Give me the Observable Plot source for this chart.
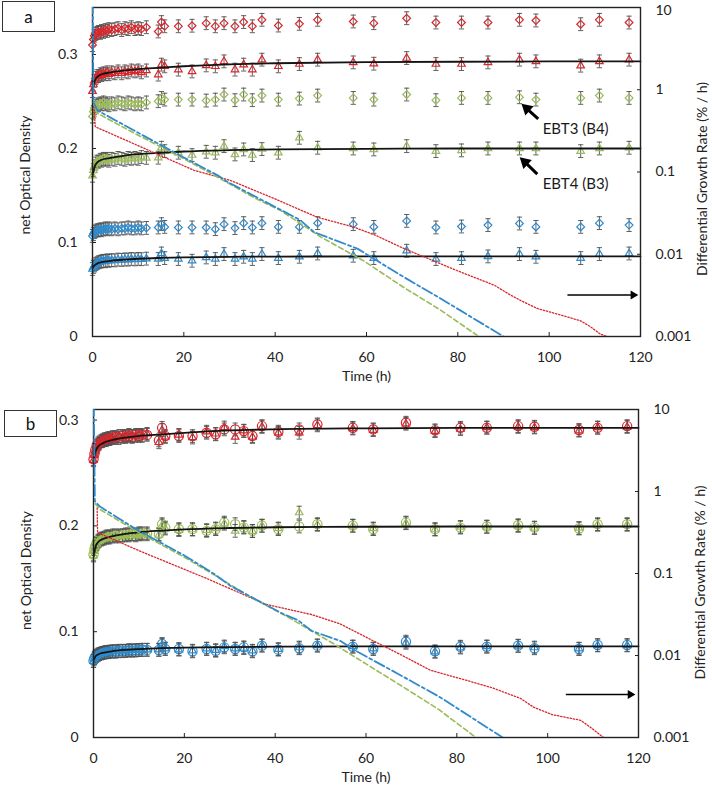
<!DOCTYPE html>
<html>
<head>
<meta charset="utf-8">
<script src="https://cdn.jsdelivr.net/npm/d3@7"></script>
<script src="https://cdn.jsdelivr.net/npm/@observablehq/plot@0.6"></script>
<style>
  body { margin: 0; background: #fff; font-family: Lato, sans-serif; }
  #root { position: relative; width: 712px; height: 786px; overflow: hidden; background: #fff; }
  .panel { position: absolute; left: 0; width: 712px; }
  .panel svg { position: absolute; left: 0; top: 0; }
  .tag { position: absolute; box-sizing: border-box; border: 1px solid #333; background: #fff;
         font: 17px Lato, sans-serif; color: #111; display: flex; align-items: center; justify-content: center; }
</style>
</head>
<body>
<div id="root"></div>
<script>
// ---- sampling times (h) shared by every optical-density series ----
const time = [0,0.2,0.4,0.7,1.0,1.3,1.7,2.0,2.4,2.8,3.2,3.6,4.2,4.9,5.6,6.4,7.1,7.8,8.5,9.3,10.0,10.7,11.8,
  14.4,15.1,15.8,18.8,21.8,24.9,26.9,28.8,31.2,33.1,35.0,37.1,40.7,45.3,49.3,57.1,61.6,68.8,75.2,80.8,86.6,93.5,97.1,106.9,111.0,117.5];

// ---- panel a: net optical density ----
const odA_red4 = [0.310,0.316,0.320,0.322,0.323,0.324,0.323,0.325,0.324,0.326,0.325,0.327,0.326,0.327,0.328,0.326,0.328,0.327,0.329,0.327,0.328,0.327,0.329,
  0.3245,0.3345,0.330,0.330,0.3306,0.3333,0.330,0.3333,0.330,0.3345,0.330,0.3369,0.3308,0.3326,0.3369,0.3351,0.3333,0.3386,0.3340,0.3340,0.3340,0.3369,0.3362,0.3322,0.3369,0.3340];
const odA_red3 = [0.261,0.268,0.272,0.275,0.277,0.277,0.279,0.278,0.280,0.279,0.281,0.279,0.281,0.280,0.282,0.280,0.282,0.281,0.283,0.282,0.283,0.281,0.283,
  0.2786,0.2892,0.2874,0.2839,0.282,0.2884,0.2874,0.2927,0.2839,0.2892,0.2839,0.2945,0.2874,0.2898,0.2945,0.2916,0.2902,0.2962,0.2898,0.2898,0.2916,0.2945,0.2927,0.2881,0.2927,0.2945];
const odA_green4 = [0.234,0.239,0.243,0.245,0.247,0.246,0.248,0.247,0.249,0.247,0.248,0.246,0.248,0.247,0.249,0.248,0.247,0.249,0.248,0.247,0.248,0.247,0.249,
  0.2503,0.2538,0.252,0.252,0.252,0.251,0.252,0.2574,0.2514,0.2574,0.2514,0.2563,0.252,0.2531,0.2563,0.2538,0.252,0.2574,0.2514,0.2538,0.2538,0.2545,0.252,0.2538,0.2563,0.2538];
const odA_green3 = [0.171,0.177,0.181,0.184,0.186,0.186,0.188,0.187,0.189,0.188,0.189,0.187,0.189,0.188,0.190,0.189,0.188,0.190,0.189,0.190,0.189,0.191,0.190,
  0.1902,0.2008,0.1972,0.1955,0.193,0.1965,0.1955,0.2025,0.1937,0.199,0.193,0.1994,0.1955,0.2114,0.2008,0.2,0.199,0.2025,0.1972,0.198,0.2,0.2,0.2,0.1972,0.2,0.2008];
const odA_blue4 = [0.107,0.109,0.111,0.112,0.113,0.113,0.114,0.113,0.114,0.115,0.114,0.115,0.114,0.115,0.114,0.115,0.115,0.116,0.115,0.115,0.116,0.115,0.1155,
  0.116,0.1195,0.1166,0.116,0.116,0.116,0.1142,0.1195,0.1153,0.1206,0.116,0.1206,0.1166,0.1166,0.1206,0.1195,0.1166,0.123,0.116,0.117,0.1185,0.1202,0.1166,0.1166,0.1206,0.1185];
const odA_blue3 = [0.0718,0.074,0.0755,0.077,0.078,0.079,0.0795,0.080,0.0805,0.080,0.081,0.0805,0.0812,0.081,0.0818,0.0815,0.082,0.0818,0.0825,0.082,0.0826,0.0822,0.0828,
  0.0824,0.0883,0.0834,0.0824,0.0806,0.0841,0.0824,0.0877,0.0824,0.0848,0.0824,0.0877,0.0834,0.0848,0.0883,0.0859,0.0834,0.0912,0.0824,0.0834,0.0852,0.0877,0.0848,0.0834,0.0877,0.0883];

// ---- panel b: net optical density (circles and triangles) ----
const odB_redCircle = [0.263,0.268,0.272,0.276,0.278,0.279,0.280,0.281,0.282,0.281,0.283,0.282,0.283,0.284,0.283,0.285,0.284,0.285,0.284,0.286,0.285,0.286,0.286,
  0.2808,0.2927,0.2849,0.2849,0.2849,0.288,0.2865,0.2912,0.2912,0.2896,0.2849,0.2943,0.289,0.2912,0.2959,0.2927,0.2912,0.2975,0.2903,0.2927,0.2927,0.2943,0.2937,0.2906,0.2927,0.2943];
const odB_redTri = [0.262,0.267,0.271,0.274,0.277,0.278,0.280,0.280,0.281,0.282,0.282,0.283,0.284,0.283,0.285,0.284,0.285,0.286,0.285,0.285,0.286,0.285,0.287,
  0.2790,0.2905,0.2840,0.2860,0.2835,0.2890,0.2870,0.2930,0.2840,0.2900,0.2840,0.2935,0.2880,0.2880,0.2950,0.2920,0.2905,0.2965,0.2895,0.2915,0.2930,0.2935,0.2930,0.2900,0.2930,0.2935];
const odB_greenCircle = [0.173,0.178,0.181,0.184,0.186,0.187,0.188,0.188,0.189,0.190,0.189,0.190,0.191,0.190,0.191,0.191,0.192,0.191,0.192,0.192,0.193,0.192,0.193,
  0.1922,0.2016,0.1984,0.1969,0.1969,0.1953,0.1969,0.2031,0.2016,0.1984,0.1953,0.2003,0.1969,0.1994,0.2016,0.2003,0.1969,0.2031,0.1969,0.1984,0.1994,0.2006,0.1984,0.1975,0.2016,0.2016];
const odB_greenTri = [0.172,0.176,0.180,0.183,0.185,0.186,0.187,0.188,0.188,0.189,0.190,0.189,0.190,0.191,0.190,0.191,0.191,0.192,0.192,0.191,0.192,0.193,0.192,
  0.1915,0.2005,0.1975,0.1960,0.1965,0.1960,0.1975,0.2020,0.1953,0.1990,0.1950,0.2000,0.1975,0.2126,0.2010,0.2000,0.1975,0.2025,0.1965,0.1990,0.1990,0.2000,0.1980,0.1980,0.2010,0.2010];
const odB_blueCircle = [0.0726,0.075,0.0765,0.0775,0.0785,0.079,0.0795,0.080,0.0805,0.0805,0.081,0.081,0.0815,0.081,0.082,0.0815,0.082,0.0825,0.082,0.0825,0.0825,0.083,0.0828,
  0.0827,0.0884,0.0836,0.0836,0.0814,0.0836,0.082,0.0852,0.0836,0.0852,0.0814,0.0868,0.083,0.0843,0.0868,0.0858,0.0836,0.0906,0.0814,0.0858,0.0858,0.0868,0.0843,0.0836,0.0874,0.0874];
const odB_blueTri = [0.0722,0.0745,0.076,0.0772,0.078,0.0788,0.0795,0.0798,0.0802,0.0808,0.0806,0.0812,0.0812,0.0816,0.0815,0.082,0.0818,0.0822,0.0824,0.0822,0.0828,0.0826,0.083,
  0.0830,0.0875,0.0840,0.0830,0.0820,0.0840,0.0825,0.0860,0.0840,0.0845,0.0820,0.0870,0.0835,0.0850,0.0870,0.0860,0.0840,0.0895,0.0810,0.0850,0.0860,0.0865,0.0850,0.0840,0.0870,0.0870];

// ---- fitted growth curves (solid black) ----
const fitTime = [0,0.5,1,2,4,7,10,15,20,30,40,60,80,100,120];
const fitA_red   = [0.262,0.272,0.276,0.279,0.281,0.283,0.2845,0.286,0.2875,0.2895,0.2907,0.2918,0.2923,0.2926,0.2927];
const fitA_green = [0.172,0.181,0.185,0.188,0.190,0.1925,0.194,0.1955,0.1968,0.1982,0.199,0.1997,0.2,0.2,0.2];
const fitA_blue  = [0.073,0.076,0.0775,0.079,0.0805,0.0818,0.0827,0.0836,0.0842,0.0848,0.085,0.0852,0.0853,0.0853,0.0853];
const fitB_red   = [0.262,0.271,0.275,0.278,0.281,0.2835,0.285,0.2865,0.288,0.2902,0.2913,0.2922,0.2926,0.2927,0.2927];
const fitB_green = [0.172,0.181,0.1845,0.1875,0.190,0.1925,0.194,0.1955,0.1967,0.198,0.1987,0.1992,0.1994,0.1994,0.1994];
const fitB_blue  = [0.073,0.077,0.0785,0.080,0.0815,0.0828,0.0836,0.0845,0.085,0.0855,0.0858,0.0861,0.0862,0.0862,0.0862];

// ---- differential growth rate (% / h), right log axis ----
const rateA_redT   = [0.3,0.6,10,22.2,30.2,40,49.2,57.2,62,67.4,70.3,79.9,88,91.5,93.7,97.4,102,106.9,109,111.2,112.7];
const rateA_red    = [0.63,0.355,0.209,0.105,0.079,0.047,0.0282,0.0214,0.017,0.0123,0.0105,0.0063,0.0042,0.0032,0.00275,0.00219,0.00186,0.00155,0.00132,0.00107,0.001];
const rateA_greenT = [0.2,1,10,20,27,35.3,41.2,50,59.4,68,76.2,84.6];
const rateA_green  = [0.71,0.52,0.28,0.145,0.089,0.049,0.034,0.0162,0.0083,0.004,0.0021,0.001];
const rateA_blueT  = [0.02,0.2,1.1,10,20,27.4,29.5,45.5,48.5,58,67.4,76.2,90];
const rateA_blue   = [20,0.7,0.56,0.30,0.15,0.091,0.076,0.026,0.0186,0.0117,0.0056,0.0029,0.001];
const rateB_redT   = [0.8,0.9,10,24.9,38,48,54.3,61.6,68,74.2,82,88,94,96.9,101,107.3,109.5,112.3];
const rateB_red    = [0.63,0.316,0.19,0.087,0.042,0.0316,0.0243,0.0151,0.01,0.0066,0.005,0.004,0.003,0.00234,0.0019,0.00162,0.00132,0.001];
const rateB_greenT = [0.4,1.5,10,20,27,35,41.8,52.7,60,68,76,84.2];
const rateB_green  = [0.71,0.6,0.316,0.158,0.093,0.05,0.0316,0.0141,0.0079,0.0042,0.0022,0.001];
const rateB_blueT  = [0.02,0.3,1.5,10,20,26.4,30.1,41.8,45,48,54.3,58,67,76.3,90.1];
const rateB_blue   = [20,0.76,0.65,0.33,0.166,0.1,0.071,0.032,0.027,0.02,0.0151,0.0112,0.006,0.0031,0.001];

// ---- axes ----
const timeTicks = [0,20,40,60,80,100,120];
const odTicks = [0,0.1,0.2,0.3];
const rateTicks = [0.001,0.01,0.1,1];
const rateTopTick = [10];

const RED = "#d8262b", GREEN = "#9bbb59", BLUE = "#2f8acb", BAR = "#4f4f4f";

// short horizontal cap for the error bars
const cap = { draw(ctx) { ctx.moveTo(-2.6, 0); ctx.lineTo(2.6, 0); } };

const panels = [
  {
    tag: "a", top: 0, height: 392, marginTop: 7, marginBottom: 56, marginLeft: 92, marginRight: 72,
    odMax: 0.35, err: 0.0068, yTitleDy: 3, rTitleDy: 7, topLabelDy: 3,
    series: [
      { values: odA_red4, color: RED, symbol: "diamond2", r: 3.5 },
      { values: odA_red3, color: RED, symbol: "triangle2", r: 3.6 },
      { values: odA_green4, color: GREEN, symbol: "diamond2", r: 3.5 },
      { values: odA_green3, color: GREEN, symbol: "triangle2", r: 3.6 },
      { values: odA_blue4, color: BLUE, symbol: "diamond2", r: 3.5 },
      { values: odA_blue3, color: BLUE, symbol: "triangle2", r: 3.6 }
    ],
    fits: [fitA_red, fitA_green, fitA_blue],
    rates: [
      { t: rateA_redT, v: rateA_red, color: RED, dash: "1.4,1.8", width: 1.3 },
      { t: rateA_greenT, v: rateA_green, color: GREEN, dash: "5,3", width: 1.6 },
      { t: rateA_blueT, v: rateA_blue, color: BLUE, dash: "11,3,3,3", width: 1.8 }
    ],
    rateArrow: { x1: 104, x2: 118.4, y: 0.0032 },
    notes: [
      { text: "EBT3 (B4)", tx: 105.8, ty: 0.2206, x1: 97.6, y1: 0.2315, x2: 95.1, y2: 0.2425, rot: -48 },
      { text: "EBT4 (B3)", tx: 105.8, ty: 0.1622, x1: 97.4, y1: 0.1728, x2: 94.7, y2: 0.1855, rot: -47 }
    ]
  },
  {
    tag: "b", top: 402, height: 384, marginTop: 7, marginBottom: 49, marginLeft: 93, marginRight: 74,
    odMax: 0.31, err: 0.006, yTitleDy: -3, rTitleDy: 9, topLabelDy: 0,
    series: [
      { values: odB_redCircle, color: RED, symbol: "circle", r: 4.6 },
      { values: odB_redTri, color: RED, symbol: "triangle2", r: 3.6 },
      { values: odB_greenCircle, color: GREEN, symbol: "circle", r: 4.6 },
      { values: odB_greenTri, color: GREEN, symbol: "triangle2", r: 3.6 },
      { values: odB_blueCircle, color: BLUE, symbol: "circle", r: 4.6 },
      { values: odB_blueTri, color: BLUE, symbol: "triangle2", r: 3.6 }
    ],
    fits: [fitB_red, fitB_green, fitB_blue],
    rates: [
      { t: rateB_redT, v: rateB_red, color: RED, dash: "1.4,1.8", width: 1.3 },
      { t: rateB_greenT, v: rateB_green, color: GREEN, dash: "5,3", width: 1.6 },
      { t: rateB_blueT, v: rateB_blue, color: BLUE, dash: "11,3,3,3", width: 1.8 }
    ],
    rateArrow: { x1: 104, x2: 118.2, y: 0.00334 },
    notes: []
  }
];

const root = document.getElementById("root");
const svgStyle = { background: "transparent", fontFamily: "Lato, sans-serif", fontSize: "13px", color: "#222", overflow: "visible" };

for (const p of panels) {
  const wrap = document.createElement("div");
  wrap.className = "panel";
  wrap.style.top = p.top + "px";
  wrap.style.height = p.height + "px";
  root.appendChild(wrap);

  const frame = {
    width: 712, height: p.height,
    marginTop: p.marginTop, marginBottom: p.marginBottom,
    marginLeft: p.marginLeft, marginRight: p.marginRight,
    style: svgStyle
  };

  // optical density layer (left axis)
  const marks = [];
  for (const s of p.series) {
    const rows = time.map((t, i) => ({ t, v: s.values[i] }));
    marks.push(
      Plot.ruleX(rows, { x: "t", y1: d => d.v - p.err, y2: d => d.v + p.err, stroke: BAR, strokeWidth: 0.9 }),
      Plot.dot(rows, { x: "t", y: d => d.v + p.err, symbol: cap, r: 1, stroke: BAR, strokeWidth: 0.9, fill: "none" }),
      Plot.dot(rows, { x: "t", y: d => d.v - p.err, symbol: cap, r: 1, stroke: BAR, strokeWidth: 0.9, fill: "none" }),
      Plot.dot(rows, { x: "t", y: "v", symbol: s.symbol, r: s.r, stroke: s.color, strokeWidth: 1.2, fill: "none" })
    );
  }
  for (const f of p.fits) {
    marks.push(Plot.line(fitTime.map((t, i) => ({ t, v: f[i] })),
      { x: "t", y: "v", stroke: "#141414", strokeWidth: 1.8, curve: "monotone-x" }));
  }
  for (const n of p.notes) {
    marks.push(
      Plot.link([n], { x1: "x1", y1: "y1", x2: "x2", y2: "y2", stroke: "#000", strokeWidth: 3 }),
      Plot.dot([n], { x: "x2", y: "y2", symbol: "triangle", r: 4.6, fill: "#000", stroke: "none", rotate: n.rot }),
      Plot.text([n], { x: "tx", y: "ty", text: "text", fontSize: 15, fill: "#1a1a1a" })
    );
  }
  marks.push(
    Plot.frame({ stroke: "#222", strokeWidth: 1.4 }),
    Plot.axisX(timeTicks, { anchor: "bottom", tickSize: 4, dy: -4, tickPadding: 16, label: null, fontSize: 14 }),
    Plot.axisY(odTicks, { anchor: "left", tickSize: 4, dx: 4, tickPadding: 15, label: null, tickFormat: d => String(d), fontSize: 14 }),
    Plot.text(["Time (h)"], { frameAnchor: "bottom", dy: 40, lineAnchor: "middle", textAnchor: "middle", fontSize: 14, fill: "#222" }),
    Plot.text(["net Optical Density"], { frameAnchor: "left", rotate: -90, dx: -67, dy: p.yTitleDy,
      textAnchor: "middle", lineAnchor: "middle", fontSize: 14, fill: "#222" })
  );

  const odChart = Plot.plot({
    ...frame,
    x: { domain: [0, 120], axis: null },
    y: { domain: [0, p.odMax], axis: null },
    marks
  });
  wrap.appendChild(odChart);

  // growth-rate layer (right log axis)
  const rateMarks = [];
  for (const r of p.rates) {
    rateMarks.push(Plot.line(r.t.map((t, i) => ({ t, v: r.v[i] })),
      { x: "t", y: "v", stroke: r.color, strokeWidth: r.width, strokeDasharray: r.dash, clip: true }));
  }
  const a = p.rateArrow;
  rateMarks.push(
    Plot.link([a], { x1: "x1", x2: "x2", y1: "y", y2: "y", stroke: "#000", strokeWidth: 1.6 }),
    Plot.dot([a], { x: "x2", y: "y", symbol: "triangle", r: 3.3, fill: "#000", stroke: "none", rotate: 90 }),
    Plot.axisY(rateTicks, { anchor: "right", tickSize: 4, dx: -4, tickPadding: 15, label: null, tickFormat: d => String(d), fontSize: 14 }),
    // the top decade sits on the frame edge, so its label is nudged inside the page
    Plot.axisY(rateTopTick, { anchor: "right", tickSize: 0, dy: p.topLabelDy, tickPadding: 15, label: null, tickFormat: d => String(d), fontSize: 14 }),
    Plot.text(["Differential Growth Rate (% / h)"], { frameAnchor: "right", rotate: -90, dx: 62, dy: p.rTitleDy,
      textAnchor: "middle", lineAnchor: "middle", fontSize: 14, fill: "#222" })
  );
  const rateChart = Plot.plot({
    ...frame,
    x: { domain: [0, 120], axis: null },
    y: { type: "log", domain: [0.001, 10], axis: null },
    marks: rateMarks
  });
  rateChart.style.pointerEvents = "none";
  wrap.appendChild(rateChart);
}

// panel letters
const tags = [
  { text: "a", left: 2, top: 1, w: 53, h: 31 },
  { text: "b", left: 4, top: 410, w: 53, h: 27 }
];
for (const t of tags) {
  const d = document.createElement("div");
  d.className = "tag";
  d.textContent = t.text;
  Object.assign(d.style, { left: t.left + "px", top: t.top + "px", width: t.w + "px", height: t.h + "px" });
  root.appendChild(d);
}
</script>
</body>
</html>
